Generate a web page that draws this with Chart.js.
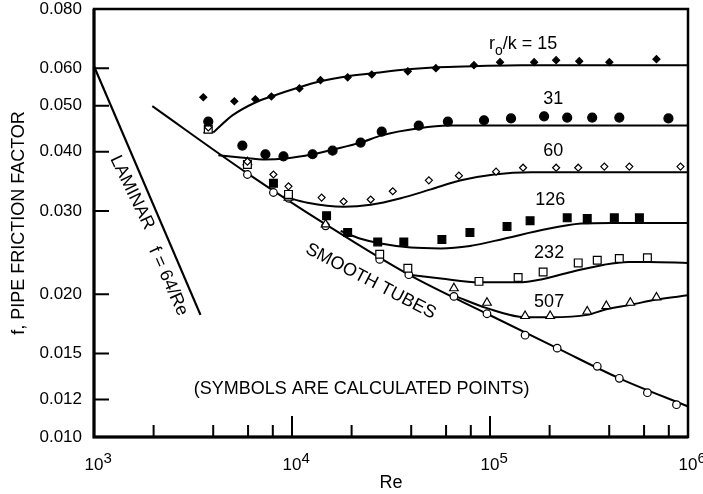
<!DOCTYPE html>
<html>
<head>
<meta charset="utf-8">
<script src="https://cdn.jsdelivr.net/npm/chart.js@4.4.1/dist/chart.umd.min.js"></script>
<style>
  html, body { margin: 0; padding: 0; background: #fff; }
  #wrap { width: 703px; height: 494px; position: relative; }
</style>
</head>
<body>
<div id="wrap"><canvas id="chart"></canvas></div>
<script>
var FONT = '"Liberation Sans", Arial, Helvetica, sans-serif';

// axis ticks
var yTicks = [0.010, 0.012, 0.015, 0.020, 0.030, 0.040, 0.050, 0.060, 0.080];
var xMajor = [1e3, 1e4, 1e5, 1e6];
var xExp = ['3', '4', '5', '6'];
var xMinor = [2e3, 4e3, 6e3, 8e3, 2e4, 4e4, 6e4, 8e4, 2e5, 4e5, 6e5, 8e5];

// laminar line, f = 64/Re
var laminarRe = [1000, 3450];
var laminarF = [0.0606, 0.0181];

// smooth tubes
var smoothRe = [1970, 5954, 14780, 38900, 96560, 218400, 449900, 1000000];
var smoothF = [0.0499, 0.0360, 0.0281, 0.0220, 0.0182, 0.0154, 0.0133, 0.0116];
var smoothPtRe = [5954, 8058, 9600, 14780, 27730, 38900, 65740, 96560, 150400, 218400, 348100, 449900, 623700, 874700];
var smoothPtF = [0.0358, 0.0328, 0.0319, 0.0279, 0.0237, 0.0220, 0.0198, 0.0182, 0.0164, 0.0154, 0.0141, 0.0133, 0.0124, 0.0117];

// r0/k = 15
var r15Re = [4004, 5000, 6530, 7870, 10900, 13930, 19100, 25280, 38460, 53950, 82990, 143500, 364700, 1000000];
var r15F = [0.0439, 0.0477, 0.0508, 0.0523, 0.0547, 0.0563, 0.0577, 0.0585, 0.0597, 0.0603, 0.0606, 0.0609, 0.0609, 0.0609];
var r15PtRe = [3565, 5115, 6530, 7870, 10900, 13930, 19100, 25280, 38460, 53300, 82990, 112400, 167100, 215800, 282400, 400700, 693000];
var r15PtF = [0.0521, 0.0511, 0.0516, 0.0523, 0.0544, 0.0566, 0.0574, 0.0582, 0.0591, 0.0600, 0.0609, 0.0618, 0.0618, 0.0624, 0.0621, 0.0618, 0.0627];

// r0/k = 31
var r31Re = [4246, 5487, 7341, 9269, 12700, 16030, 22220, 28390, 43660, 61260, 93270, 1000000];
var r31F = [0.0393, 0.0389, 0.0385, 0.0387, 0.0395, 0.0404, 0.0418, 0.0433, 0.0448, 0.0454, 0.0454, 0.0454];
var r31PtRe = [3777, 5614, 7341, 9056, 12700, 16030, 22220, 28390, 43660, 61260, 93270, 127700, 187600, 245400, 328200, 449900, 796600];
var r31PtF = [0.0463, 0.0412, 0.0395, 0.0391, 0.0395, 0.0402, 0.0418, 0.0441, 0.0454, 0.0463, 0.0466, 0.0470, 0.0475, 0.0472, 0.0472, 0.0472, 0.0470];

// r0/k = 60
var r60Re = [9056, 11980, 18230, 24980, 35430, 50270, 71330, 104800, 161300, 1000000];
var r60F = [0.0322, 0.0312, 0.0306, 0.0309, 0.0319, 0.0333, 0.0348, 0.0358, 0.0362, 0.0362];
var r60PtRe = [3777, 5954, 8058, 9600, 14110, 18230, 24980, 32280, 49110, 69660, 107300, 146900, 215800, 279000, 377800, 505400, 916200];
var r60PtF = [0.0450, 0.0381, 0.0358, 0.0338, 0.0320, 0.0314, 0.0317, 0.0330, 0.0348, 0.0356, 0.0363, 0.0370, 0.0370, 0.0370, 0.0372, 0.0372, 0.0372];

// r0/k = 126
var r126Re = [17610, 22220, 28050, 39810, 56480, 79190, 117700, 187600, 288900, 410000, 1000000];
var r126F = [0.0272, 0.0262, 0.0256, 0.0251, 0.0250, 0.0253, 0.0262, 0.0274, 0.0282, 0.0283, 0.0283];
var r126PtRe = [8058, 14950, 19100, 27100, 36700, 57150, 79190, 121900, 159400, 245400, 309800, 424500, 568200];
var r126PtF = [0.0343, 0.0293, 0.0270, 0.0258, 0.0258, 0.0261, 0.0270, 0.0278, 0.0286, 0.0290, 0.0289, 0.0290, 0.0290];

// r0/k = 232
var r232Re = [38900, 56480, 87980, 138700, 181200, 257100, 377800, 499500, 631000, 1000000];
var r232F = [0.0220, 0.0216, 0.0212, 0.0212, 0.0215, 0.0223, 0.0231, 0.0234, 0.0234, 0.0233];
var r232PtRe = [3777, 5954, 9600, 27730, 38460, 87980, 138700, 185500, 279000, 348100, 449900, 623700];
var r232PtF = [0.0446, 0.0376, 0.0325, 0.0243, 0.0227, 0.0213, 0.0217, 0.0223, 0.0233, 0.0236, 0.0238, 0.0239];

// r0/k = 507
var r507Re = [67270, 96560, 150400, 201300, 309800, 386700, 511400, 693000, 1000000];
var r507F = [0.0198, 0.0187, 0.0179, 0.0179, 0.0181, 0.0186, 0.0190, 0.0195, 0.0199];
var r507PtRe = [3777, 5954, 9600, 14780, 65740, 96560, 150400, 201300, 309800, 386700, 511400, 693000];
var r507PtF = [0.0444, 0.0380, 0.0320, 0.0281, 0.0206, 0.0192, 0.0180, 0.0180, 0.0184, 0.0189, 0.0192, 0.0197];

// text placed in data space
var curveLabels = ['31', '60', '126', '232', '507'];
var curveLabelRe = [208400, 208400, 201300, 198900, 198900];
var curveLabelF = [0.0516, 0.0402, 0.0317, 0.0245, 0.0193];

function pts(xs, ys) {
  return xs.map(function (x, i) { return { x: x, y: ys[i] }; });
}

function curve(xs, ys, w) {
  return {
    data: pts(xs, ys),
    showLine: true,
    borderColor: '#000',
    borderWidth: w || 2,
    pointRadius: 0,
    fill: false,
    cubicInterpolationMode: 'monotone',
    order: 1
  };
}

function marks(xs, ys, style, r, filled) {
  return {
    data: pts(xs, ys),
    showLine: false,
    pointStyle: style,
    pointRadius: r,
    backgroundColor: filled ? '#000' : '#fff',
    borderColor: '#000',
    borderWidth: 1.2,
    order: 0
  };
}

var decor = {
  id: 'decor',
  afterDraw: function (chart) {
    var ctx = chart.ctx;
    var a = chart.chartArea;
    var xs = chart.scales.x, ys = chart.scales.y;
    ctx.save();
    ctx.strokeStyle = '#000';
    ctx.fillStyle = '#000';

    // frame
    ctx.lineWidth = 2.5;
    ctx.strokeRect(a.left, a.top, a.right - a.left, a.bottom - a.top);
    ctx.lineWidth = 3;
    ctx.beginPath();
    ctx.moveTo(a.left, a.top);
    ctx.lineTo(a.left, a.bottom);
    ctx.lineTo(a.right, a.bottom);
    ctx.stroke();

    // inward ticks
    ctx.lineWidth = 2;
    ctx.beginPath();
    yTicks.slice(1, -1).forEach(function (v) {
      var y = ys.getPixelForValue(v);
      ctx.moveTo(a.left, y);
      ctx.lineTo(a.left + 15, y);
    });
    xMinor.forEach(function (v) {
      var x = xs.getPixelForValue(v);
      ctx.moveTo(x, a.bottom);
      ctx.lineTo(x, a.bottom - 12);
    });
    xMajor.slice(1, -1).forEach(function (v) {
      var x = xs.getPixelForValue(v);
      ctx.moveTo(x, a.bottom);
      ctx.lineTo(x, a.bottom - 21);
    });
    ctx.stroke();

    // 10^n labels
    ctx.textBaseline = 'alphabetic';
    xMajor.forEach(function (v, i) {
      var x = xs.getPixelForValue(v);
      ctx.font = '17px ' + FONT;
      ctx.textAlign = 'center';
      ctx.fillText('10', x, a.bottom + 33);
      var w = ctx.measureText('10').width;
      ctx.font = '15px ' + FONT;
      ctx.textAlign = 'left';
      ctx.fillText(xExp[i], x + w / 2, a.bottom + 26);
    });

    // curve labels
    ctx.font = '18px ' + FONT;
    ctx.textAlign = 'center';
    ctx.textBaseline = 'middle';
    curveLabels.forEach(function (t, i) {
      ctx.fillText(t, xs.getPixelForValue(curveLabelRe[i]), ys.getPixelForValue(curveLabelF[i]));
    });

    // r0/k = 15
    var rx = xs.getPixelForValue(98900), ry = ys.getPixelForValue(0.0658);
    ctx.textAlign = 'left';
    ctx.textBaseline = 'alphabetic';
    ctx.font = '18px ' + FONT;
    ctx.fillText('r', rx, ry);
    rx += ctx.measureText('r').width;
    ctx.font = '14px ' + FONT;
    ctx.fillText('o', rx, ry + 6);
    rx += ctx.measureText('o').width;
    ctx.font = '18px ' + FONT;
    ctx.fillText('/k = 15', rx, ry);

    // rotated labels
    function rotText(t, re, f, deg) {
      ctx.save();
      ctx.translate(xs.getPixelForValue(re), ys.getPixelForValue(f));
      ctx.rotate(deg * Math.PI / 180);
      ctx.textAlign = 'center';
      ctx.textBaseline = 'middle';
      ctx.fillText(t, 0, 0);
      ctx.restore();
    }
    ctx.font = '18px ' + FONT;
    rotText('LAMINAR', 1557, 0.0328, 64);
    rotText('f = 64/Re', 2370, 0.0213, 66);
    rotText('SMOOTH TUBES', 24980, 0.0213, 27.5);

    ctx.textAlign = 'center';
    ctx.textBaseline = 'middle';
    ctx.fillText('(SYMBOLS ARE CALCULATED POINTS)', xs.getPixelForValue(22490), ys.getPixelForValue(0.0126));
    ctx.restore();
  }
};

new Chart(document.getElementById('chart'), {
  type: 'scatter',
  data: {
    datasets: [
      curve(laminarRe, laminarF, 2.2),
      curve(smoothRe, smoothF, 2),
      curve(r15Re, r15F, 2),
      curve(r31Re, r31F, 2),
      curve(r60Re, r60F, 2),
      curve(r126Re, r126F, 2),
      curve(r232Re, r232F, 2),
      curve(r507Re, r507F, 2),
      marks(r15PtRe, r15PtF, 'rectRot', 3.5, true),
      marks(r31PtRe, r31PtF, 'circle', 4.5, true),
      marks(r60PtRe, r60PtF, 'rectRot', 3.5, false),
      marks(r126PtRe, r126PtF, 'rect', 5.5, true),
      marks(r232PtRe, r232PtF, 'rect', 5.5, false),
      marks(r507PtRe, r507PtF, 'triangle', 5, false),
      marks(smoothPtRe, smoothPtF, 'circle', 3.8, false)
    ]
  },
  options: {
    responsive: true,
    maintainAspectRatio: false,
    animation: false,
    layout: { padding: { top: 9, right: 15, bottom: 0, left: 0 } },
    plugins: {
      legend: { display: false },
      tooltip: { enabled: false }
    },
    scales: {
      x: {
        type: 'logarithmic',
        min: 1000,
        max: 1000000,
        ticks: { display: false },
        grid: { display: false, drawTicks: false },
        border: { display: false },
        afterFit: function (scale) {
          scale.height = 57;
          scale.paddingLeft = 0;
          scale.paddingRight = 0;
        },
        title: {
          display: true,
          text: 'Re',
          color: '#000',
          font: { family: FONT, size: 18 },
          padding: { top: 0, bottom: 0 }
        }
      },
      y: {
        type: 'logarithmic',
        min: 0.01,
        max: 0.08,
        afterBuildTicks: function (scale) {
          scale.ticks = yTicks.map(function (v) { return { value: v }; });
        },
        afterFit: function (scale) {
          scale.width = 94;
          scale.paddingTop = 0;
          scale.paddingBottom = 0;
        },
        ticks: {
          callback: function (v) { return Number(v).toFixed(3); },
          color: '#000',
          font: { family: FONT, size: 17 },
          padding: 12,
          autoSkip: false
        },
        grid: { display: false, drawTicks: false },
        border: { display: false },
        title: {
          display: true,
          text: 'f, PIPE FRICTION FACTOR',
          color: '#000',
          font: { family: FONT, size: 18 },
          padding: { top: 8, bottom: 0 }
        }
      }
    }
  },
  plugins: [decor]
});
</script>
</body>
</html>
